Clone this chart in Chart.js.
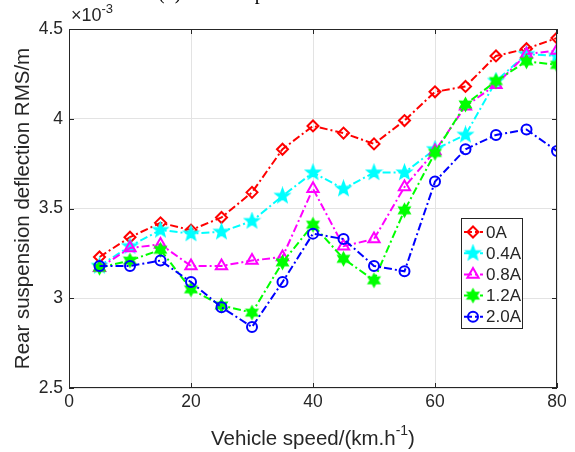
<!DOCTYPE html>
<html>
<head>
<meta charset="utf-8">
<script src="https://cdn.jsdelivr.net/npm/chart.js@4.4.1/dist/chart.umd.min.js"></script>
<style>
  html, body { margin: 0; padding: 0; background: #fff; }
  canvas { display: block; }
</style>
</head>
<body>
<canvas id="rms_chart" width="575" height="452"></canvas>
<script>
// vehicle speed, km/h
var speeds = [5, 10, 15, 20, 25, 30, 35, 40, 45, 50, 55, 60, 65, 70, 75, 80];
// RMS rear suspension deflection, x10^-3 m
var rms_0A   = [3.23, 3.34, 3.42, 3.38, 3.45, 3.59, 3.83, 3.96, 3.92, 3.86, 3.99, 4.15, 4.18, 4.35, 4.39, 4.45];
var rms_04A  = [3.18, 3.29, 3.38, 3.36, 3.37, 3.43, 3.57, 3.70, 3.61, 3.70, 3.70, 3.83, 3.91, 4.21, 4.36, 4.35];
var rms_08A  = [3.17, 3.28, 3.30, 3.18, 3.18, 3.21, 3.23, 3.61, 3.29, 3.33, 3.62, 3.82, 4.07, 4.19, 4.36, 4.38];
var rms_12A  = [3.17, 3.21, 3.27, 3.05, 2.96, 2.92, 3.20, 3.41, 3.22, 3.10, 3.49, 3.81, 4.08, 4.21, 4.32, 4.30];
var rms_20A  = [3.18, 3.18, 3.21, 3.09, 2.95, 2.84, 3.09, 3.36, 3.33, 3.18, 3.15, 3.65, 3.83, 3.91, 3.94, 3.82];
var series_labels = ['0A', '0.4A', '0.8A', '1.2A', '2.0A'];
var x_ticks = [0, 20, 40, 60, 80];
var y_ticks = [2.5, 3, 3.5, 4, 4.5];

var FONT = '"Liberation Sans", Arial, sans-serif';
var TEXT = '#262626';
var DASHDOT = [8, 3, 2, 3];

// pentagram / hexagram markers (matlab 'p' and 'h')
var starMarker = function(color, spikes, outer, inner) {
  var size = Math.ceil(outer * 2 + 4);
  var c = document.createElement('canvas');
  c.width = size; c.height = size;
  var g = c.getContext('2d');
  g.translate(size / 2, size / 2);
  g.beginPath();
  for (var i = 0; i < spikes * 2; i++) {
    var r = (i % 2 === 0) ? outer : inner;
    var a = -Math.PI / 2 + i * Math.PI / spikes;
    if (i === 0) g.moveTo(r * Math.cos(a), r * Math.sin(a));
    else g.lineTo(r * Math.cos(a), r * Math.sin(a));
  }
  g.closePath();
  g.fillStyle = color;
  g.strokeStyle = color;
  g.lineWidth = 1.5;
  g.fill();
  g.stroke();
  return c;
};

var pentagram = starMarker('#00ffff', 5, 7.5, 3.2);
var hexagram = starMarker('#00ff00', 6, 6.5, 3.6);

var makeSet = function(label, values, color, style, radius, order) {
  return {
    label: label,
    data: values.map(function(v, i) { return { x: speeds[i], y: v }; }),
    borderColor: color,
    backgroundColor: color,
    borderWidth: 2,
    borderDash: DASHDOT,
    pointStyle: style,
    pointRadius: radius,
    pointBorderColor: color,
    pointBackgroundColor: 'rgba(0,0,0,0)',
    pointBorderWidth: 2,
    tension: 0,
    fill: false,
    order: order
  };
};

var datasets = [
  makeSet(series_labels[0], rms_0A, '#ff0000', 'rectRot', 5.5, 5),
  makeSet(series_labels[1], rms_04A, '#00ffff', pentagram, 7, 4),
  makeSet(series_labels[2], rms_08A, '#ff00ff', 'triangle', 6.5, 3),
  makeSet(series_labels[3], rms_12A, '#00ff00', hexagram, 6.5, 2),
  makeSet(series_labels[4], rms_20A, '#0000ff', 'circle', 5, 1)
];

var drawMarker = function(ctx, ds, x, y) {
  Chart.helpers.drawPoint(ctx, {
    pointStyle: ds.pointStyle,
    rotation: 0,
    radius: ds.pointRadius,
    borderWidth: ds.pointBorderWidth
  }, x, y);
};

var decorations = {
  id: 'decorations',
  afterDraw: function(chart) {
    var ctx = chart.ctx;
    var a = chart.chartArea;
    var xs = chart.scales.x, ys = chart.scales.y;
    ctx.save();

    // cut caption at the very top
    ctx.fillStyle = '#000';
    ctx.font = '20px "Liberation Serif", "Times New Roman", serif';
    ctx.textAlign = 'left';
    ctx.textBaseline = 'alphabetic';
    ctx.fillText('(b) Rear suspension deflection', 158, -1);

    // box + inward ticks
    ctx.strokeStyle = TEXT;
    ctx.lineWidth = 1;
    ctx.setLineDash([]);
    ctx.strokeRect(a.left + 0.5, a.top + 0.5, a.right - a.left - 1, a.bottom - a.top - 1);
    ctx.beginPath();
    x_ticks.forEach(function(t) {
      var px = Math.round(xs.getPixelForValue(t)) + 0.5;
      ctx.moveTo(px, a.bottom); ctx.lineTo(px, a.bottom - 5);
      ctx.moveTo(px, a.top); ctx.lineTo(px, a.top + 5);
    });
    y_ticks.forEach(function(t) {
      var py = Math.round(ys.getPixelForValue(t)) + 0.5;
      ctx.moveTo(a.left, py); ctx.lineTo(a.left + 5, py);
      ctx.moveTo(a.right, py); ctx.lineTo(a.right - 5, py);
    });
    ctx.stroke();

    // exponent
    ctx.fillStyle = TEXT;
    ctx.font = '18px ' + FONT;
    ctx.textBaseline = 'alphabetic';
    ctx.fillText('\u00d710', a.left + 2, 21);
    var w = ctx.measureText('\u00d710').width;
    ctx.font = '13px ' + FONT;
    ctx.fillText('-3', a.left + 2 + w, 13);

    // y title
    ctx.font = '20.5px ' + FONT;
    ctx.textAlign = 'center';
    ctx.textBaseline = 'middle';
    ctx.save();
    ctx.translate(23, (a.top + a.bottom) / 2);
    ctx.rotate(-Math.PI / 2);
    ctx.fillText('Rear suspension deflection RMS/m', 0, 0);
    ctx.restore();

    // x title with superscript
    ctx.textAlign = 'left';
    ctx.textBaseline = 'alphabetic';
    ctx.font = '20.5px ' + FONT;
    var p1 = 'Vehicle speed/(km.h', p3 = ')';
    var w1 = ctx.measureText(p1).width, w3 = ctx.measureText(p3).width;
    ctx.font = '14px ' + FONT;
    var w2 = ctx.measureText('-1').width;
    var x0 = (a.left + a.right) / 2 - (w1 + w2 + w3) / 2;
    ctx.font = '20.5px ' + FONT;
    ctx.fillText(p1, x0, 445);
    ctx.font = '14px ' + FONT;
    ctx.fillText('-1', x0 + w1, 435);
    ctx.font = '20.5px ' + FONT;
    ctx.fillText(p3, x0 + w1 + w2, 445);

    // legend
    var lx = 461, ly = 218, lw = 61, lh = 110;
    ctx.fillStyle = '#fff';
    ctx.fillRect(lx, ly, lw, lh);
    ctx.strokeStyle = TEXT;
    ctx.strokeRect(lx + 0.5, ly + 0.5, lw, lh);
    ctx.font = '17px ' + FONT;
    ctx.textBaseline = 'middle';
    datasets.forEach(function(ds, i) {
      var yy = 232 + i * 21.2;
      ctx.strokeStyle = ds.borderColor;
      ctx.fillStyle = 'rgba(0,0,0,0)';
      ctx.lineWidth = 2;
      ctx.setLineDash(DASHDOT);
      ctx.beginPath();
      ctx.moveTo(464, yy); ctx.lineTo(483, yy);
      ctx.stroke();
      ctx.setLineDash([]);
      drawMarker(ctx, ds, 473, yy);
      ctx.fillStyle = TEXT;
      ctx.fillText(ds.label, 486, yy + 1);
    });
    ctx.restore();
  }
};

var chart_rms = new Chart(document.getElementById('rms_chart').getContext('2d'), {
  type: 'line',
  data: { datasets: datasets },
  options: {
    responsive: false,
    animation: false,
    devicePixelRatio: 1,
    layout: { padding: { top: 29, right: 18, left: 0, bottom: 0 } },
    plugins: { legend: { display: false }, tooltip: { enabled: false } },
    scales: {
      x: {
        type: 'linear', min: 0, max: 80,
        afterBuildTicks: function(s) { s.ticks = x_ticks.map(function(v) { return { value: v }; }); },
        afterFit: function(s) { s.height = 64; },
        ticks: { color: TEXT, font: { family: FONT, size: 17.5 }, padding: 4, maxRotation: 0,
                 callback: function(v) { return String(v); } },
        grid: { color: '#e3e3e3', drawTicks: false },
        border: { display: false }
      },
      y: {
        min: 2.5, max: 4.5,
        afterBuildTicks: function(s) { s.ticks = y_ticks.map(function(v) { return { value: v }; }); },
        afterFit: function(s) { s.width = 69; },
        ticks: { color: TEXT, font: { family: FONT, size: 17.5 }, padding: 6,
                 callback: function(v) { return String(v); } },
        grid: { color: '#e3e3e3', drawTicks: false },
        border: { display: false }
      }
    }
  },
  plugins: [decorations]
});
</script>
</body>
</html>
